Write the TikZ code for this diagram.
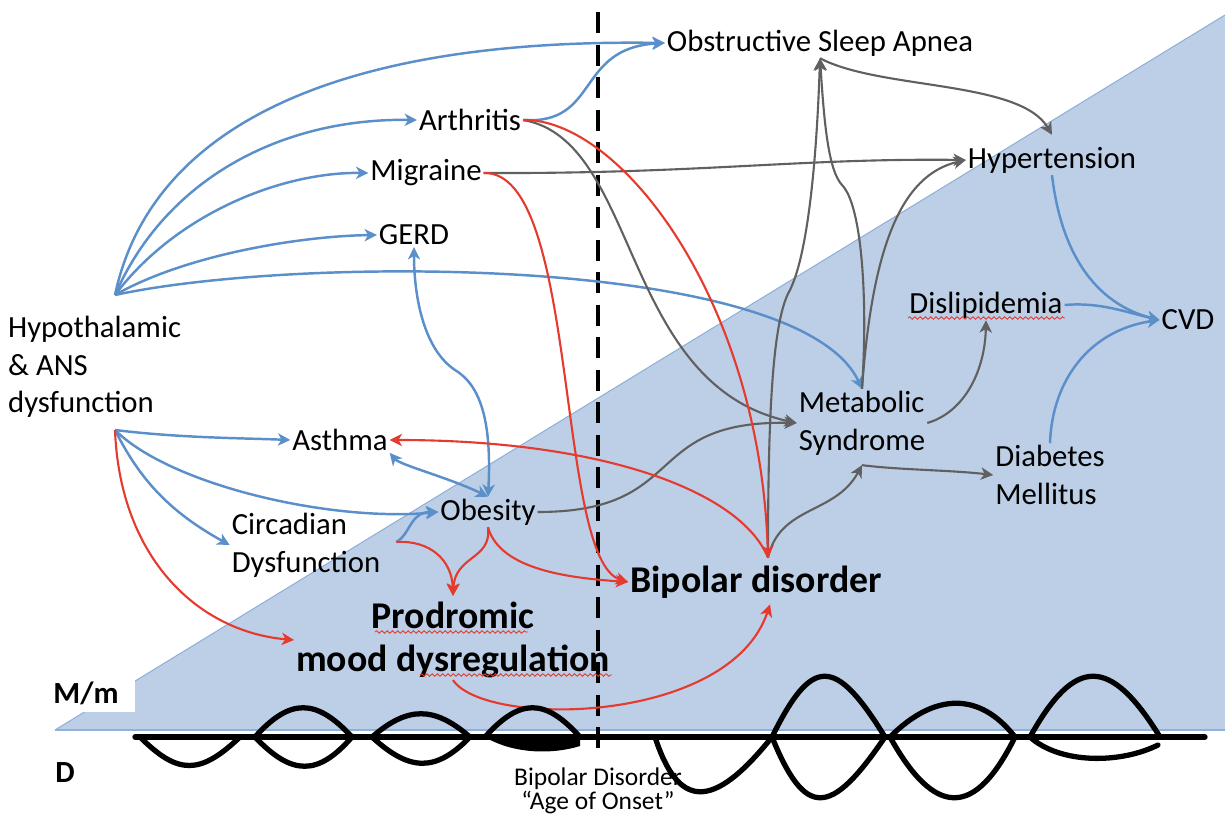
\documentclass[tikz,border=0pt]{standalone}
\usepackage{fontspec}
\setmainfont{Carlito}
\usetikzlibrary{arrows.meta,calc,decorations.pathmorphing}
\definecolor{bgblue}{HTML}{BCCFE6}
\definecolor{edgeblue}{HTML}{8FB0D8}
\definecolor{arrblue}{HTML}{5B8FCA}
\definecolor{arrred}{HTML}{E53A2E}
\definecolor{arrgray}{HTML}{606060}
\begin{document}
\begin{tikzpicture}[x=0.02cm,y=-0.02cm,
  lbl/.style={font=\fontsize{17.5}{21.5}\selectfont, inner sep=1pt, align=center, text=black},
  bold/.style={lbl, font=\fontsize{17.5}{24}\selectfont\bfseries},
  bigbold/.style={lbl, font=\fontsize{21.5}{24.5}\selectfont\bfseries},
  small/.style={font=\fontsize{14.5}{13.5}\selectfont, inner sep=1pt, align=center},
  bl/.style={draw=arrblue, line width=1.4pt, -{Stealth[length=7pt,width=7pt,inset=2pt]}},
  blboth/.style={draw=arrblue, line width=1.4pt, {Stealth[length=7pt,width=7pt,inset=2pt]}-{Stealth[length=7pt,width=7pt,inset=2pt]}},
  rd/.style={draw=arrred, line width=1.2pt, -{Stealth[length=7pt,width=7pt,inset=2pt]}},
  gy/.style={draw=arrgray, line width=1.2pt, -{Stealth[length=7pt,width=7pt,inset=2pt]}},
  wv/.style={draw=black, line width=3pt, line cap=round, line join=round},
  squiggle/.style={draw=arrred, line width=0.5pt, decorate, decoration={snake, amplitude=0.7pt, segment length=3pt}}
]
\useasboundingbox (0,0) rectangle (1225,814);
% background
\fill[bgblue] (55,730) -- (1225,15) -- (1225,730) -- cycle;
\draw[edgeblue, line width=0.6pt] (55,730) -- (1225,15);
\draw[edgeblue, line width=0.6pt] (55,730) -- (1225,730);
\fill[white] (30,668) rectangle (135,712);

% onset line
\draw[black, line width=2.8pt, dash pattern=on 12pt off 6.5pt] (598,12) -- (598,758);

% nodes
\node[lbl, align=left, anchor=west] (hyp) at (6,367) {Hypothalamic\\\& ANS\\dysfunction};
\coordinate (hub1) at (115,295);
\coordinate (hub2) at (115,430);
\node[lbl] (osa) at (820,43) {Obstructive Sleep Apnea};
\node[lbl] (arth) at (470,120) {Arthritis};
\node[lbl] (mig) at (426,173) {Migraine};
\node[lbl] (gerd) at (414,235) {GERD};
\node[lbl] (hyper) at (1052,160) {Hypertension};
\node[lbl] (disl) at (986,305) {Dislipidemia};
\node[lbl] (cvd) at (1188,320) {CVD};
\node[lbl, align=left] (meta) at (862,423) {Metabolic\\Syndrome};
\node[lbl, align=left] (diab) at (1050,475) {Diabetes\\Mellitus};
\node[lbl] (asth) at (340,440) {Asthma};
\node[lbl] (obes) at (488,512) {Obesity};
\node[lbl, align=left] (circ) at (306,545) {Circadian\\Dysfunction};
\node[bigbold] (bip) at (756,582) {Bipolar disorder};
\node[bigbold] (prod) at (453,640) {Prodromic\\mood dysregulation};
\node[bold] (mm) at (86,693) {M/m};
\node[bold] (dd) at (65,773) {D};
\node[small] (onset) at (598,791) {Bipolar Disorder\\``Age of Onset''};

% squiggly underlines
\draw[squiggle] (908,318) -- (1065,318);
\draw[squiggle] (375,632) -- (528,632);
\draw[squiggle] (420,675) -- (612,675);

% blue fan from hub1
\draw[bl] (hub1) .. controls (150,130) and (330,38) .. (osa.west);
\draw[bl] (hub1) .. controls (165,180) and (280,118) .. (arth.west);
\draw[bl] (hub1) .. controls (175,215) and (280,172) .. (mig.west);
\draw[bl] (hub1) .. controls (185,255) and (300,236) .. (gerd.west);
\draw[bl] (hub1) .. controls (300,255) and (800,255) .. (meta.north);
\draw[bl] (arth.east) .. controls (600,125) and (575,48) .. (osa.west);
% blue fan from hub2
\draw[bl] (hub2) .. controls (180,438) and (240,438) .. (asth.west);
\draw[bl] (hub2) .. controls (170,485) and (330,522) .. (obes.west);
\draw[bl] (hub2) .. controls (140,480) and (170,512) .. (circ.west);
\draw[blboth] (obes.north) .. controls (492,420) and (480,385) .. (455,370) .. controls (425,350) and (414,300) .. (gerd.south);
\draw[blboth] (obes.north) .. controls (450,478) and (400,465) .. (asth.south east);
\draw[bl] ($(circ.east)+(14,-3)$) .. controls (410,535) and (410,512) .. (obes.west);
% blue to CVD
\draw[bl] (hyper.south) .. controls (1062,260) and (1100,305) .. (cvd.west);
\draw[bl] (disl.east) .. controls (1100,302) and (1125,312) .. (cvd.west);
\draw[bl] (diab.north) .. controls (1052,380) and (1090,330) .. (cvd.west);

% gray
\draw[gy] (mig.east) .. controls (700,174) and (800,158) .. (hyper.west);
\draw[gy] (arth.east) .. controls (640,140) and (620,385) .. (meta.west);
\draw[gy] (obes.east) .. controls (690,512) and (640,420) .. (meta.west);
\draw[gy] (meta.north) .. controls (868,300) and (862,205) .. (842,185) .. controls (828,170) and (824,120) .. (osa.south);
\draw[gy] ($(bip.north)+(12,-6)$) .. controls (768,420) and (772,320) .. (790,290) .. controls (812,245) and (818,120) .. (osa.south);
\draw[gy] (osa.south) .. controls (880,90) and (1020,80) .. ($(hyper.north)+(0,-10)$);
\draw[gy] (meta.north) .. controls (872,250) and (900,175) .. (hyper.west);
\draw[gy] (meta.east) .. controls (965,412) and (985,370) .. (disl.south);
\draw[gy] ($(bip.north)+(12,-6)$) .. controls (780,505) and (835,515) .. ($(meta.south)+(0,8)$);
\draw[gy] ($(meta.south)+(0,8)$) .. controls (900,470) and (950,470) .. (diab.west);

% red
\draw[rd] (arth.east) .. controls (620,118) and (760,300) .. ($(bip.north)+(12,-6)$);
\draw[rd] (mig.east) .. controls (580,170) and (555,560) .. (bip.west);
\draw[rd] ($(bip.north)+(12,-6)$) .. controls (740,490) and (600,440) .. (asth.east);
\draw[rd] ($(circ.east)+(14,-3)$) .. controls (430,540) and (452,560) .. ($(prod.north)+(0,-4)$);
\draw[rd] (obes.south) .. controls (492,560) and (455,555) .. ($(prod.north)+(0,-4)$);
\draw[rd] (obes.south) .. controls (500,570) and (570,578) .. (bip.west);
\draw[rd] (hub2) .. controls (120,560) and (200,632) .. (prod.west);
\draw[rd] (prod.south) .. controls (485,728) and (730,725) .. ($(bip.south)+(14,4)$);

% mood waves
\draw[wv] (135,737) -- (1205,737);
\draw[wv] (140,737) .. controls (178,775) and (200,775) .. (240,737);
\draw[wv] (255,737) .. controls (290,698) and (316,698) .. (352,737);
\draw[wv] (255,737) .. controls (292,776) and (318,776) .. (352,737);
\draw[wv] (372,737) .. controls (408,706) and (434,706) .. (470,737);
\draw[wv] (372,737) .. controls (410,772) and (436,772) .. (470,737);
\draw[wv] (485,737) .. controls (520,698) and (545,698) .. (580,737);
\fill[black] (485,737) .. controls (515,755) and (555,754) .. (580,746) -- (580,737) -- cycle;
\draw[wv] (655,737) .. controls (678,808) and (712,812) .. (772,737);
\draw[wv] (772,737) .. controls (812,656) and (835,656) .. (885,737);
\draw[wv] (772,737) .. controls (805,818) and (830,818) .. (885,737);
\draw[wv] (890,737) .. controls (935,692) and (980,692) .. (1015,737);
\draw[wv] (890,737) .. controls (935,818) and (975,818) .. (1015,737);
\draw[wv] (1030,737) .. controls (1075,656) and (1110,656) .. (1160,737);
\draw[wv] (1030,737) .. controls (1060,764) and (1120,764) .. (1158,745);
\end{tikzpicture}
\end{document}
